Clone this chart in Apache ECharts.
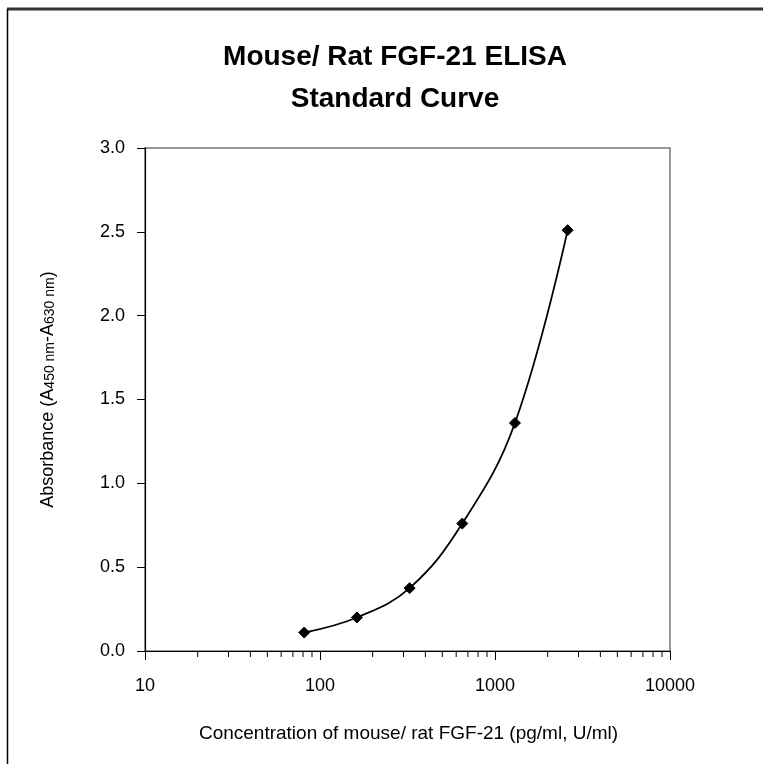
<!DOCTYPE html>
<html>
<head>
<meta charset="utf-8">
<script src="https://cdn.jsdelivr.net/npm/echarts@6/dist/echarts.min.js"></script>
<style>
html,body{margin:0;padding:0;background:#fff;}
#chart{width:763px;height:764px;}
</style>
</head>
<body>
<div id="chart"></div>
<script>
// Data
const concentrations = [81.25, 162.5, 325, 650, 1300, 2600];
const absorbance = [0.11, 0.20, 0.375, 0.76, 1.36, 2.51];
const xTickLabels = ['10', '100', '1000', '10000'];
const yTickValues = [0, 0.5, 1.0, 1.5, 2.0, 2.5, 3.0];
const xMinorTicks = [20,30,40,50,60,70,80,90,200,300,400,500,600,700,800,900,2000,3000,4000,5000,6000,7000,8000,9000];
const titleLines = ['Mouse/ Rat FGF-21 ELISA', 'Standard Curve'];

const FONT = '"Liberation Sans",Arial,sans-serif';

const chart = echarts.init(document.getElementById('chart'), null, {renderer: 'canvas'});

const option = {
  backgroundColor: '#ffffff',
  animation: false,
  title: {
    text: titleLines.join('\n'),
    left: 390,
    top: 31,
    textAlign: 'center',
    textStyle: {
      fontFamily: FONT,
      fontWeight: 'bold',
      fontSize: 28,
      lineHeight: 42,
      color: '#000'
    }
  },
  graphic: [
    {type: 'line', shape: {x1: 7, y1: 9, x2: 763, y2: 9}, style: {stroke: '#333', lineWidth: 3}, z: 10},
    {type: 'line', shape: {x1: 7.5, y1: 9, x2: 7.5, y2: 764}, style: {stroke: '#000', lineWidth: 1.5}, z: 10}
  ],
  grid: {
    left: 145,
    right: 93,
    top: 148,
    bottom: 113,
    containLabel: false,
    outerBoundsMode: 'none',
    show: true,
    borderColor: '#777',
    borderWidth: 1.5,
    backgroundColor: 'transparent'
  },
  xAxis: {
    type: 'log',
    logBase: 10,
    min: 10,
    max: 10000,
    name: 'Concentration of mouse/ rat FGF-21 (pg/ml, U/ml)',
    nameLocation: 'middle',
    nameGap: 73,
    nameTextStyle: {fontFamily: FONT, fontSize: 19, color: '#000', padding: [0, 0, 0, 2]},
    axisLine: {show: true, onZero: false, lineStyle: {color: '#000', width: 1.2}},
    axisTick: {show: true, inside: false, length: 9, lineStyle: {color: '#000'}},
    axisLabel: {
      fontFamily: FONT, fontSize: 18, color: '#000', margin: 26,
      formatter: function (v) { const s = String(Math.round(v)); return xTickLabels.indexOf(s) >= 0 ? s : ''; }
    },
    splitLine: {show: false},
    minorTick: {show: false}
  },
  yAxis: {
    type: 'value',
    min: 0,
    max: 3,
    interval: 0.5,
    name: '{m|Absorbance (A}{s|450 nm}{m|-A}{s|630 nm}{m|)}',
    nameLocation: 'middle',
    nameRotate: 90,
    nameGap: 88,
    nameTextStyle: {
      fontFamily: FONT, color: '#000',
      padding: [0, 0, 0, 20],
      rich: {
        m: {fontFamily: FONT, fontSize: 18, color: '#000', verticalAlign: 'bottom', lineHeight: 22},
        s: {fontFamily: FONT, fontSize: 14, color: '#000', verticalAlign: 'bottom', lineHeight: 20}
      }
    },
    axisLine: {show: true, onZero: false, lineStyle: {color: '#000', width: 1.2}},
    axisTick: {show: true, inside: false, length: 8, lineStyle: {color: '#000'}},
    axisLabel: {
      fontFamily: FONT, fontSize: 18, color: '#000', margin: 20,
      formatter: function (v) { return yTickValues.indexOf(v) >= 0 ? v.toFixed(1) : ''; }
    },
    splitLine: {show: false}
  },
  series: [
    {
      type: 'custom',
      name: 'minorTicks',
      silent: true,
      clip: false,
      data: xMinorTicks.map(function (v) { return [v, 0]; }),
      encode: {x: 0, y: 1},
      renderItem: function (params, api) {
        const p = api.coord([api.value(0), 0]);
        return {
          type: 'line',
          shape: {x1: p[0], y1: p[1], x2: p[0], y2: p[1] + 6},
          style: {stroke: '#000', lineWidth: 1}
        };
      },
      z: 3
    },
    {
      type: 'line',
      name: 'Standard',
      data: concentrations.map(function (c, i) { return [c, absorbance[i]]; }),
      smooth: 0.4,
      symbol: 'diamond',
      symbolSize: 11,
      showAllSymbol: true,
      itemStyle: {color: '#000', borderColor: '#000'},
      lineStyle: {color: '#000', width: 1.8},
      z: 5
    }
  ]
};

chart.setOption(option);
</script>
</body>
</html>
